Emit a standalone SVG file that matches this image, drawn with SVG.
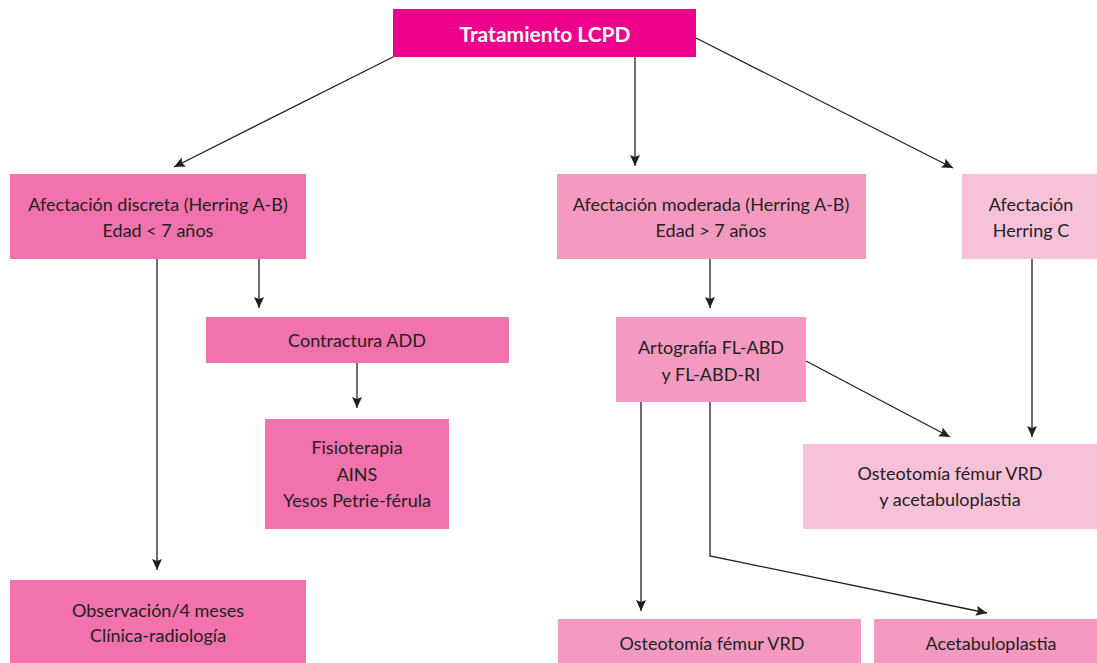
<svg xmlns="http://www.w3.org/2000/svg" width="1097" height="663" viewBox="0 0 1097 663">
<style>
.t{font-family:Lato,"Liberation Sans",sans-serif;font-size:18px;fill:#231F20;text-anchor:middle}
.h{font-family:Lato,"Liberation Sans",sans-serif;font-size:21px;font-weight:bold;fill:#FFFFFF;text-anchor:middle}
.c1{fill:#EC008C}
.c2{fill:#F172AC}
.c3{fill:#F49AC1}
.c4{fill:#F8C1DA}
.ln{fill:none;stroke:#231F20;stroke-width:1.3;marker-end:url(#ah)}
</style>
<defs>
<marker id="ah" markerUnits="userSpaceOnUse" markerWidth="12" markerHeight="11" refX="11" refY="5" orient="auto">
<path d="M0,0 L11,5 L0,10 L2,5 z" fill="#231F20"/>
</marker>
</defs>
<rect width="1097" height="663" fill="#FFFFFF"/>
<g id="connectors">
<path class="ln" d="M395,56 L174,167"/>
<path class="ln" d="M635,57 V166"/>
<path class="ln" d="M696,38 L953,168"/>
<path class="ln" d="M157,259 V570"/>
<path class="ln" d="M259,259 V308"/>
<path class="ln" d="M357,363 V408"/>
<path class="ln" d="M710,259 V308"/>
<path class="ln" d="M1032,259 V437"/>
<path class="ln" d="M806,361 L950,437"/>
<path class="ln" d="M641,402 V611"/>
<path class="ln" d="M710,402 V556 L987,613"/>
</g>
<g id="n-root">
<rect class="c1" x="393" y="9" width="303" height="48"/>
<text class="h" x="545" y="42">Tratamiento LCPD</text>
</g>
<g id="n-discreta">
<rect class="c2" x="10" y="174" width="296" height="85"/>
<text class="t" x="158" y="211">Afectación discreta (Herring A-B)</text>
<text class="t" x="158" y="237">Edad &lt; 7 años</text>
</g>
<g id="n-moderada">
<rect class="c3" x="557" y="174" width="309" height="85"/>
<text class="t" x="711" y="211">Afectación moderada (Herring A-B)</text>
<text class="t" x="711" y="237">Edad &gt; 7 años</text>
</g>
<g id="n-herringc">
<rect class="c4" x="962" y="174" width="135" height="85"/>
<text class="t" x="1031" y="211">Afectación</text>
<text class="t" x="1031" y="237">Herring C</text>
</g>
<g id="n-contractura">
<rect class="c2" x="206" y="317" width="303" height="46"/>
<text class="t" x="357" y="347">Contractura ADD</text>
</g>
<g id="n-fisio">
<rect class="c2" x="265" y="419" width="184" height="110"/>
<text class="t" x="357" y="454">Fisioterapia</text>
<text class="t" x="357" y="481">AINS</text>
<text class="t" x="357" y="507">Yesos Petrie-férula</text>
</g>
<g id="n-artografia">
<rect class="c3" x="616" y="317" width="190" height="85"/>
<text class="t" x="711" y="354">Artografía FL-ABD</text>
<text class="t" x="711" y="381">y FL-ABD-RI</text>
</g>
<g id="n-osteo-aceta">
<rect class="c4" x="803" y="444" width="294" height="85"/>
<text class="t" x="950" y="480">Osteotomía fémur VRD</text>
<text class="t" x="950" y="506">y acetabuloplastia</text>
</g>
<g id="n-observacion">
<rect class="c2" x="10" y="580" width="296" height="83"/>
<text class="t" x="158" y="617">Observación/4 meses</text>
<text class="t" x="158" y="642">Clínica-radiología</text>
</g>
<g id="n-osteo">
<rect class="c3" x="558" y="619" width="303" height="44"/>
<text class="t" x="712" y="650">Osteotomía fémur VRD</text>
</g>
<g id="n-aceta">
<rect class="c3" x="874" y="619" width="223" height="44"/>
<text class="t" x="991" y="650">Acetabuloplastia</text>
</g>
</svg>
